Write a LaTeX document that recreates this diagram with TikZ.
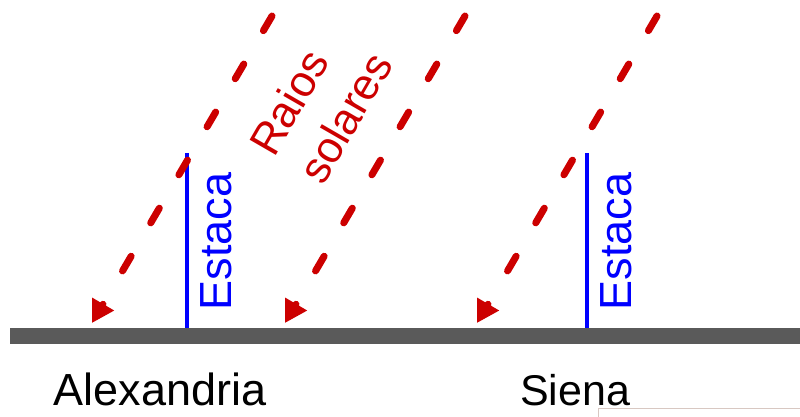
\documentclass[tikz,border=0pt]{standalone}
\usepackage{fontspec}
\setmainfont{Liberation Sans}
\usetikzlibrary{arrows.meta}
\definecolor{rayred}{RGB}{204,0,0}
\definecolor{stakeblue}{RGB}{0,0,255}
\definecolor{groundgray}{RGB}{90,90,90}
\definecolor{boxedge}{RGB}{216,200,194}
\tikzset{
  ray/.style={draw=rayred, line width=7pt, line cap=round,
    dash pattern=on 17pt off 38.7pt,
    -{Triangle[length=22pt,width=24pt,fill=rayred,line cap=butt]}},
  stakeline/.style={draw=stakeblue, line width=4pt},
  stakelabel/.style={text=stakeblue, font=\fontsize{45}{50}\selectfont, rotate=90, anchor=base, inner sep=0pt},
  placelabel/.style={text=black, font=\fontsize{43}{50}\selectfont, anchor=base, inner sep=0pt},
  raylabel/.style={text=rayred, font=\fontsize{44}{50}\selectfont, rotate=60, anchor=base west, inner sep=0pt}
}
\begin{document}
\begin{tikzpicture}[x=1pt,y=-1pt]
\useasboundingbox (0,0) rectangle (800,417);
% ground
\fill[groundgray] (10,328) rectangle (800,344);
% stakes
\coordinate (s1top) at (187,153);
\coordinate (s1bot) at (187,328);
\coordinate (s2top) at (587,153);
\coordinate (s2bot) at (587,328);
\draw[stakeline] (s1top) -- (s1bot);
\draw[stakeline] (s2top) -- (s2bot);
\node[stakelabel] (est1) at (231,241.5) {Estaca};
\node[stakelabel] (est2) at (631,241.5) {Estaca};
% rays
\coordinate (r1a) at (272,16);
\coordinate (r1b) at (92,323);
\coordinate (r2a) at (465,16);
\coordinate (r2b) at (285,323);
\coordinate (r3a) at (657,16);
\coordinate (r3b) at (477,323);
\draw[ray] (r1a) -- (r1b);
\draw[ray] (r2a) -- (r2b);
\draw[ray] (r3a) -- (r3b);
\node[raylabel] (rays1) at (274,159) {Raios};
\node[raylabel] (rays2) at (323,187) {solares};
% place names
\node[placelabel, font=\fontsize{45}{50}\selectfont] (alex) at (160,405) {Alexandria};
\node[placelabel] (siena) at (575,405) {Siena};
% partial box at bottom right
\coordinate (b1) at (598,417);
\coordinate (b2) at (598,408.5);
\coordinate (b3) at (800,408.5);
\draw[boxedge, line width=1pt] (b1) -- (b2) -- (b3);
\end{tikzpicture}
\end{document}
